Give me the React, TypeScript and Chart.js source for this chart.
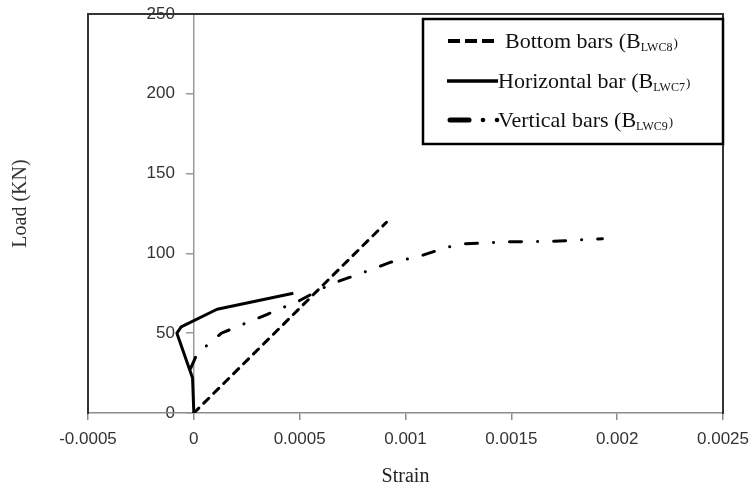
import React, { useEffect, useRef } from 'react';
import { Chart, registerables } from 'chart.js';

Chart.register(...registerables);

// ---- data ----
const bottomStrain = [0, 0.00091];
const bottomLoad = [0, 119.5];

const horizontalStrain = [0, -0.000006, -0.00008, -0.00006, 0.00011, 0.00047];
const horizontalLoad = [0, 22, 50, 54, 65, 75];

const verticalStrain = [-0.000015, 0.000015, 0.00013, 0.00035, 0.0005, 0.00065, 0.00078, 0.00093, 0.00105, 0.0012, 0.00128, 0.0015, 0.0017, 0.00193];
const verticalLoad = [28, 37, 50, 62, 70.5, 81, 87, 94.5, 97.5, 104, 106, 107.3, 107.6, 109.2];

const xTickValues = [-0.0005, 0, 0.0005, 0.001, 0.0015, 0.002, 0.0025];
const xTickLabels = ['-0.0005', '0', '0.0005', '0.001', '0.0015', '0.002', '0.0025'];
const yTickValues = [0, 50, 100, 150, 200, 250];
const yTickLabels = ['0', '50', '100', '150', '200', '250'];

const legendMain = ['Bottom bars (B', 'Horizontal bar (B', 'Vertical bars (B'];
const legendSub = ['LWC8', 'LWC7', 'LWC9'];

const xTitle = 'Strain';
const yTitle = 'Load (KN)';

const toPoints = (xs: number[], ys: number[]) => xs.map((x, i) => ({ x, y: ys[i] }));

const legendPlugin = {
  id: 'subLegend',
  afterDraw(chart: any) {
    const { ctx, chartArea } = chart;
    const right = chartArea.right;
    const boxL = right - 300;
    const boxT = chartArea.top + 5;
    ctx.save();
    ctx.strokeStyle = '#000';
    ctx.lineWidth = 2.5;
    ctx.strokeRect(boxL, boxT, 300, 125);
    const rows = [boxT + 22, boxT + 62, boxT + 101];
    const sx = boxL + 25;
    // row 1: dashed
    ctx.strokeStyle = '#000';
    ctx.setLineDash([12, 5]);
    ctx.lineWidth = 4;
    ctx.beginPath();
    ctx.moveTo(sx, rows[0]);
    ctx.lineTo(sx + 49, rows[0]);
    ctx.stroke();
    // row 2: solid
    ctx.setLineDash([]);
    ctx.lineWidth = 3.5;
    ctx.beginPath();
    ctx.moveTo(sx - 1, rows[1]);
    ctx.lineTo(sx + 50, rows[1]);
    ctx.stroke();
    // row 3: dash dot dot
    ctx.lineWidth = 5;
    ctx.lineCap = 'round';
    ctx.beginPath();
    ctx.moveTo(sx + 2, rows[2]);
    ctx.lineTo(sx + 21, rows[2]);
    ctx.stroke();
    ctx.fillStyle = '#000';
    [sx + 35, sx + 49].forEach((cx) => {
      ctx.beginPath();
      ctx.arc(cx, rows[2], 2.3, 0, Math.PI * 2);
      ctx.fill();
    });
    // texts
    const textX = [boxL + 82, boxL + 75, boxL + 75];
    ctx.fillStyle = '#111';
    ctx.textBaseline = 'alphabetic';
    ctx.textAlign = 'left';
    rows.forEach((ry, i) => {
      const base = ry + 7;
      ctx.font = '22px "Liberation Serif"';
      ctx.fillText(legendMain[i], textX[i], base);
      const w = ctx.measureText(legendMain[i]).width;
      ctx.font = '12px "Liberation Serif"';
      ctx.fillText(legendSub[i], textX[i] + w, base + 3);
      const w2 = ctx.measureText(legendSub[i]).width;
      ctx.font = '13px "Liberation Serif"';
      ctx.fillText(')', textX[i] + w + w2 + 1, base - 1);
    });
    ctx.restore();
  },
};

export default function App() {
  const ref = useRef<HTMLCanvasElement | null>(null);

  useEffect(() => {
    document.body.style.margin = '0';
    const canvas = ref.current;
    if (!canvas) return;
    const common = {
      borderColor: '#000',
      backgroundColor: '#000',
      pointRadius: 0,
      tension: 0,
      fill: false,
      xAxisID: 'x',
      yAxisID: 'y',
    };
    const chart = new Chart(canvas, {
      type: 'line',
      data: {
        datasets: [
          {
            ...common,
            label: legendMain[0] + legendSub[0] + ')',
            data: toPoints(bottomStrain, bottomLoad),
            borderWidth: 3,
            borderDash: [7, 7],
            borderCapStyle: 'round',
          },
          {
            ...common,
            label: legendMain[1] + legendSub[1] + ')',
            data: toPoints(horizontalStrain, horizontalLoad),
            borderWidth: 3,
            borderJoinStyle: 'round',
          },
          {
            ...common,
            label: legendMain[2] + legendSub[2] + ')',
            data: toPoints(verticalStrain, verticalLoad),
            borderWidth: 3,
            borderDash: [12, 16, 0.1, 16],
            borderCapStyle: 'round',
          },
        ] as any,
      },
      options: {
        responsive: false,
        maintainAspectRatio: false,
        animation: false,
        layout: { padding: 0 },
        plugins: {
          legend: { display: false },
          tooltip: { enabled: false },
        },
        scales: {
          y: {
            type: 'linear',
            position: { x: 0 } as any,
            min: 0,
            max: 250,
            afterBuildTicks: (s: any) => {
              s.ticks = yTickValues.map((v) => ({ value: v }));
            },
            ticks: {
              callback: (_v: any, i: number) => yTickLabels[i] + '    ',
              font: { family: '"Liberation Sans"', size: 17 },
              color: '#333',
              autoSkip: false,
            },
            grid: { drawOnChartArea: false, tickLength: 7, color: '#999', lineWidth: 1.5 },
            border: { color: '#999', width: 1.5 },
          },
          x: {
            type: 'linear',
            position: 'bottom',
            min: -0.0005,
            max: 0.0025,
            afterBuildTicks: (s: any) => {
              s.ticks = xTickValues.map((v) => ({ value: v }));
            },
            ticks: {
              callback: (_v: any, i: number) => xTickLabels[i],
              font: { family: '"Liberation Sans"', size: 17 },
              color: '#333',
              padding: 9,
              maxRotation: 0,
              autoSkip: false,
            },
            grid: { drawOnChartArea: false, tickLength: 7, color: '#8c8c8c', lineWidth: 1.5 },
            border: { color: '#8c8c8c', width: 1.5 },
            title: {
              display: true,
              text: xTitle,
              font: { family: '"Liberation Serif"', size: 20 },
              color: '#222',
              padding: { top: 0, bottom: 4 },
            },
            afterFit: (s: any) => {
              s.height = 80;
              s.paddingLeft = 0;
              s.paddingRight = 0;
            },
          },
          yL: {
            type: 'linear',
            position: 'left',
            min: 0,
            max: 250,
            ticks: { display: false },
            grid: { display: false },
            border: { display: true, color: '#333', width: 2 },
            title: {
              display: true,
              text: '    ' + yTitle,
              font: { family: '"Liberation Serif"', size: 20 },
              color: '#333',
              padding: { top: 9, bottom: 0 },
            },
            afterFit: (s: any) => {
              s.width = 88;
            },
          },
          yR: {
            type: 'linear',
            position: 'right',
            min: 0,
            max: 250,
            ticks: { display: false },
            grid: { display: false },
            border: { display: true, color: '#333', width: 2 },
            afterFit: (s: any) => {
              s.width = 30;
            },
          },
          xT: {
            type: 'linear',
            position: 'top',
            min: -0.0005,
            max: 0.0025,
            ticks: { display: false },
            grid: { display: false },
            border: { display: true, color: '#333', width: 2 },
            afterFit: (s: any) => {
              s.height = 14;
            },
          },
        } as any,
      },
      plugins: [legendPlugin],
    });
    return () => chart.destroy();
  }, []);

  return (
    <div style={{ position: 'relative', width: 753, height: 493, background: '#fff' }}>
      <canvas ref={ref} width={753} height={493} style={{ display: 'block' }} />
    </div>
  );
}
